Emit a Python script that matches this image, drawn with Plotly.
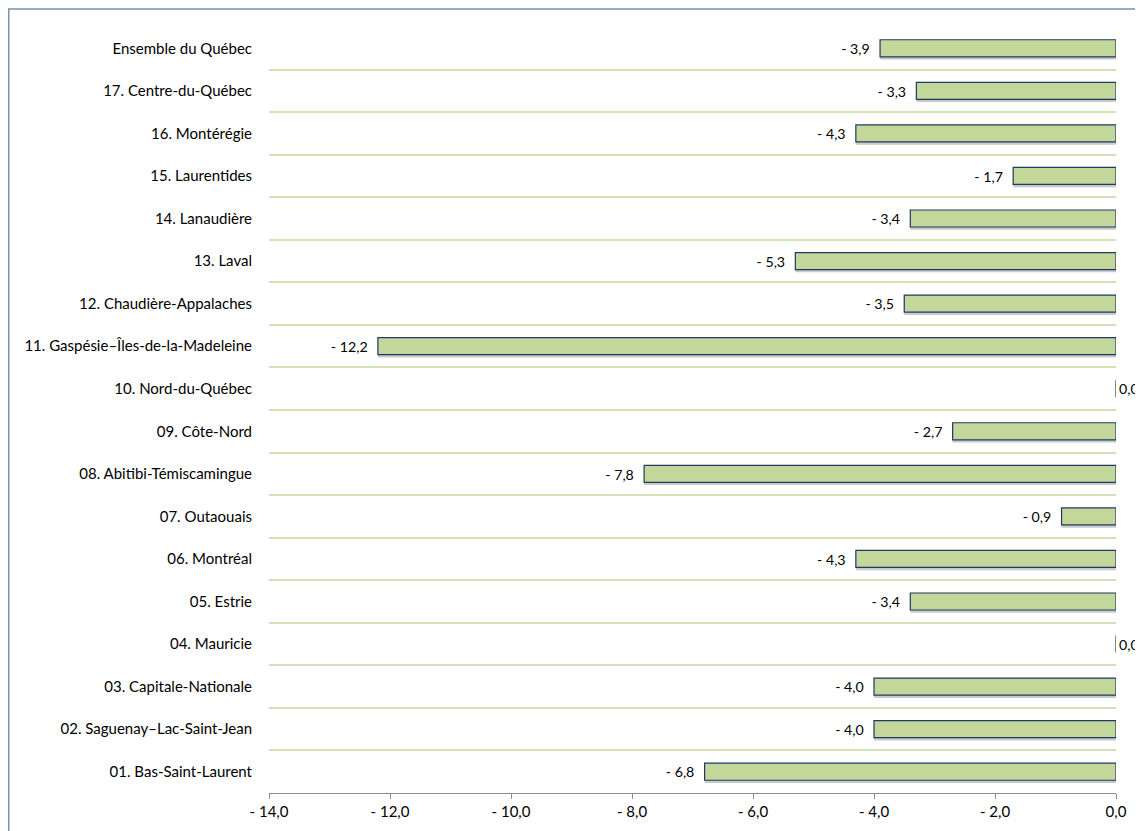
import plotly.graph_objects as go

categories = [
    "01. Bas-Saint-Laurent", "02. Saguenay\u2013Lac-Saint-Jean", "03. Capitale-Nationale",
    "04. Mauricie", "05. Estrie", "06. Montréal", "07. Outaouais",
    "08. Abitibi-Témiscamingue", "09. Côte-Nord", "10. Nord-du-Québec",
    "11. Gaspésie\u2013Îles-de-la-Madeleine", "12. Chaudière-Appalaches", "13. Laval",
    "14. Lanaudière", "15. Laurentides", "16. Montérégie", "17. Centre-du-Québec",
    "Ensemble du Québec",
]
values = [-6.8, -4.0, -4.0, 0.0, -3.4, -4.3, -0.9, -7.8, -2.7, 0.0,
          -12.2, -3.5, -5.3, -3.4, -1.7, -4.3, -3.3, -3.9]
x_ticks = [-14, -12, -10, -8, -6, -4, -2, 0]


def fmt(v):
    s = f"{abs(v):.1f}".replace(".", ",")
    return f"- {s}" if v < 0 else s


labels = [fmt(v) + "\u00a0\u00a0" if v < 0 else fmt(v) for v in values]
x_ticktext = [fmt(v) for v in x_ticks]

FONT = "Lato, Calibri, sans-serif"
FS = 15
# page has an 8px body margin; figure coordinates = page coordinates - 8
W, H = 1135, 823
L, T = 261, 19
R = W - (1116 - 8)
B = H - (793 - 8)
pw, ph = W - L - R, H - T - B

fig = go.Figure()
# shadow
fig.add_trace(go.Bar(
    y=categories, x=values, orientation="h",
    marker=dict(color="rgba(60,60,60,0.28)", line=dict(width=0)),
    width=0.4, offset=-0.265, hoverinfo="skip", showlegend=False,
))
fig.add_trace(go.Bar(
    y=categories, x=values, orientation="h",
    marker=dict(color="#C4D79B", line=dict(color="#1F3864", width=1.2)),
    width=0.4, offset=-0.2,
    text=labels, textposition="outside", cliponaxis=False,
    textfont=dict(family=FONT, size=FS, color="#000000"),
    showlegend=False,
))

fig.update_layout(
    width=W, height=H,
    margin=dict(l=L, r=R, t=T, b=B, pad=0, autoexpand=False),
    plot_bgcolor="white", paper_bgcolor="white",
    barmode="overlay",
    font=dict(family=FONT, size=FS, color="#000000"),
    xaxis=dict(
        range=[-14, 0], tickvals=x_ticks, ticktext=x_ticktext,
        showgrid=False, zeroline=False, automargin=False,
        showline=True, linecolor="#8C8C8C", linewidth=1,
        ticks="outside", ticklen=5, tickcolor="#8C8C8C",
        tickfont=dict(family=FONT, size=FS, color="#000000"),
    ),
    yaxis=dict(
        type="category", categoryorder="array", categoryarray=categories,
        range=[-0.5, len(categories) - 0.5], automargin=False,
        tickson="boundaries", ticks="", showline=False,
        showgrid=True, gridcolor="#D3E2B6", gridwidth=1.5,
        ticklabelstandoff=16,
        tickfont=dict(family=FONT, size=FS, color="#000000"),
    ),
    yaxis2=dict(
        overlaying="y", side="right", range=[-0.5, len(categories) - 0.5],
        tickvals=[i - 0.5 for i in range(len(categories) + 1)],
        showticklabels=False, showgrid=False, zeroline=False,
        showline=True, linecolor="#8C8C8C", linewidth=1,
        ticks="inside", ticklen=4, tickcolor="#8C8C8C",
    ),
    shapes=[dict(
        type="rect", xref="paper", yref="paper",
        x0=(0.75 - L) / pw, x1=(W + 30 - L) / pw,
        y0=-(H + 30 - T - ph) / ph, y1=1 + (T - 1) / ph,
        line=dict(color="#7F8FA9", width=1.5), fillcolor="rgba(0,0,0,0)",
        layer="below",
    )],
)

fig.write_html("out.html")
